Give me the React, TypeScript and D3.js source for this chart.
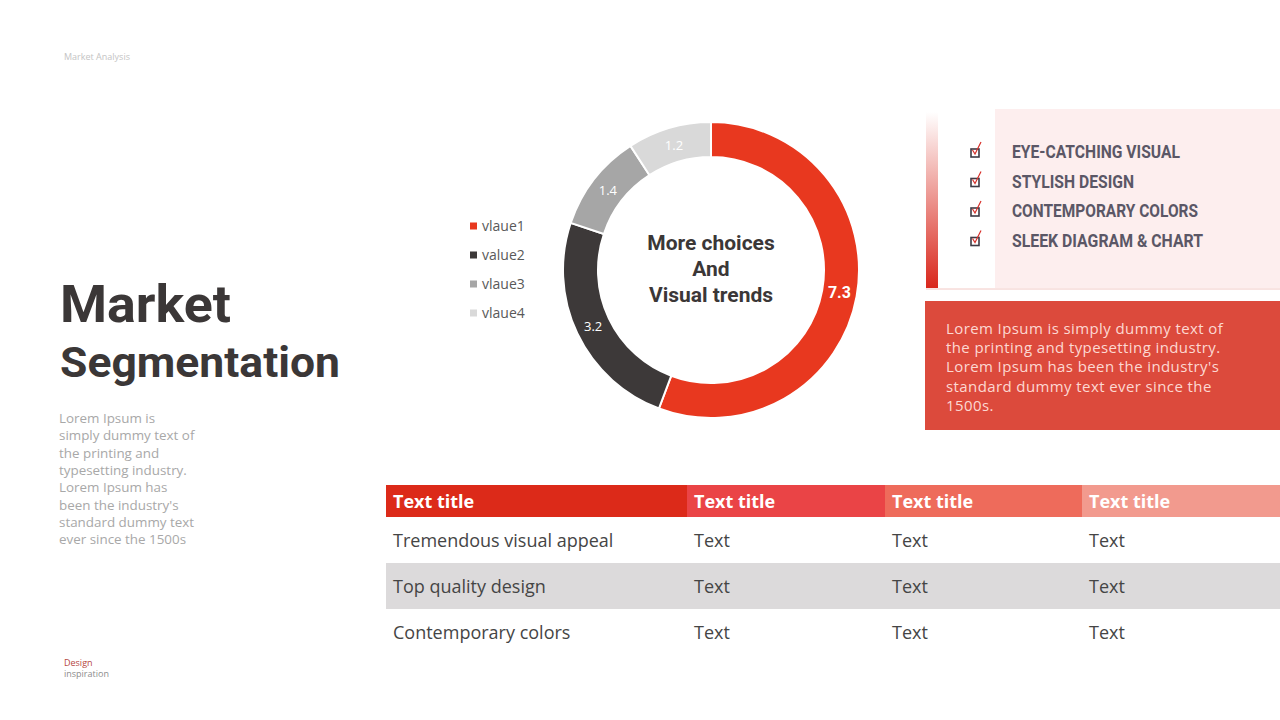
import * as d3 from 'd3';
import React from 'react';

interface Slice {
  label: string;
  value: number;
}

const sliceLabels = ['vlaue1', 'value2', 'vlaue3', 'vlaue4'];
const sliceValues = [7.3, 3.2, 1.4, 1.2];
const sliceColors = ['#e8381f', '#3d3939', '#a6a6a6', '#d9d9d9'];

const features = ['EYE-CATCHING VISUAL', 'STYLISH DESIGN', 'CONTEMPORARY COLORS', 'SLEEK DIAGRAM & CHART'];
const featureWidths = [168, 122, 186, 191];

const tableHeaders = ['Text title', 'Text title', 'Text title', 'Text title'];
const headerColors = ['#dc2a19', '#ea4446', '#ee6b5b', '#f29a8e'];
const tableRows = [
  ['Tremendous visual appeal', 'Text', 'Text', 'Text'],
  ['Top quality design', 'Text', 'Text', 'Text'],
  ['Contemporary colors', 'Text', 'Text', 'Text'],
];

const leftText = [
  'Lorem Ipsum is',
  'simply dummy text of',
  'the printing and',
  'typesetting industry.',
  'Lorem Ipsum has',
  "been the industry's",
  'standard dummy text',
  'ever since the 1500s',
];
const boxText = [
  'Lorem Ipsum is simply dummy text of',
  'the printing and typesetting industry.',
  "Lorem Ipsum has been the industry's",
  'standard dummy text ever since the',
  '1500s.',
];
const centerText = ['More choices', 'And', 'Visual trends'];

const W = 1280;
const H = 720;
const cx = 711;
const cy = 270;
const outerR = 148;
const innerR = 113;
const bodyFont = '"Open Sans", "Noto Sans", sans-serif';
const headFont = 'Roboto, "Noto Sans", sans-serif';

const App: React.FC = () => {
  const data: Slice[] = sliceLabels.map((label, i) => ({ label, value: sliceValues[i] }));
  const pie = d3.pie<Slice>().value((d) => d.value).sort(null);
  const arcs = pie(data);
  const arc = d3.arc<d3.PieArcDatum<Slice>>().innerRadius(innerR).outerRadius(outerR);

  // table geometry
  const colX = d3.scaleOrdinal<number, number>().domain([0, 1, 2, 3]).range([386, 687, 885, 1082]);
  const colEnd = [687, 885, 1082, 1280];
  const rowY = d3.scaleBand<number>().domain(d3.range(tableRows.length)).range([517, 655]);

  return (
    <svg
      width={W}
      height={H}
      viewBox={`0 0 ${W} ${H}`}
      style={{ position: 'absolute', left: 0, top: 0, background: '#fff' }}
    >
      <defs>
        <linearGradient id="bar" x1="0" y1="0" x2="0" y2="1">
          <stop offset="0" stopColor="#ffffff" />
          <stop offset="1" stopColor="#d9271c" />
        </linearGradient>
      </defs>

      <text x={64} y={60} fontFamily={bodyFont} fontSize={9} fill="#c4c4c4">
        Market Analysis
      </text>

      {/* title */}
      <text x={60} y={322} fontFamily={headFont} fontWeight={700} fontSize={52} fill="#3b3737" textLength={171} lengthAdjust="spacingAndGlyphs">
        Market
      </text>
      <text x={60} y={377} fontFamily={headFont} fontWeight={700} fontSize={42} fill="#3b3737" textLength={280} lengthAdjust="spacingAndGlyphs">
        Segmentation
      </text>
      {leftText.map((t, i) => (
        <text key={i} x={59} y={423 + i * 17.3} fontFamily={bodyFont} fontSize={13.4} fill="#a8a8a8">
          {t}
        </text>
      ))}

      {/* legend */}
      {sliceLabels.map((l, i) => (
        <g key={l} transform={`translate(470,${226 + i * 29})`}>
          <rect x={0} y={-3.5} width={7} height={7} fill={sliceColors[i]} />
          <text x={12} y={5} fontFamily={bodyFont} fontSize={14} fill="#595959">
            {l}
          </text>
        </g>
      ))}

      {/* donut */}
      <g transform={`translate(${cx},${cy})`}>
        {arcs.map((a, i) => (
          <path key={i} d={arc(a) || ''} fill={sliceColors[i]} stroke="#fff" strokeWidth={2} />
        ))}
        {arcs.map((a, i) => {
          const [x, y] = arc.centroid(a);
          return (
            <text
              key={'l' + i}
              x={x}
              y={y + 5}
              textAnchor="middle"
              fontFamily={i === 0 ? headFont : bodyFont}
              fontWeight={i === 0 ? 700 : 400}
              fontSize={i === 0 ? 16 : 13}
              fill="#fff"
            >
              {a.data.value.toFixed(1)}
            </text>
          );
        })}
        {centerText.map((t, i) => (
          <text key={t} x={0} y={-20 + i * 26} textAnchor="middle" fontFamily={headFont} fontWeight={700} fontSize={21} fill="#3b3737">
            {t}
          </text>
        ))}
      </g>

      {/* right feature panel */}
      <rect x={995} y={109} width={285} height={179} fill="#fdeeee" />
      <rect x={926} y={112} width={12} height={176} fill="url(#bar)" />
      <line x1={926} x2={1280} y1={289} y2={289} stroke="#f2c8c4" strokeWidth={1} />
      {features.map((f, i) => {
        const y = 152 + i * 29.5;
        return (
          <g key={f}>
            <rect x={971} y={y - 3} width={8} height={8} fill="none" stroke="#3f3b45" strokeWidth={1.6} />
            <path d={`M ${972.5} ${y - 2} L ${975} ${y + 2} L ${981} ${y - 10}`} fill="none" stroke="#d8302a" strokeWidth={1.2} />
            <text x={1012} y={y + 6} fontFamily={headFont} fontWeight={700} fontSize={18} fill="#5b5766" textLength={featureWidths[i]} lengthAdjust="spacingAndGlyphs">
              {f}
            </text>
          </g>
        );
      })}

      {/* red text box */}
      <rect x={925} y={301} width={355} height={129} fill="#dc4a3c" />
      {boxText.map((t, i) => (
        <text key={i} x={946} y={334 + i * 19.2} fontFamily={bodyFont} fontSize={15} letterSpacing={0.4} fill="#fcd8d2">
          {t}
        </text>
      ))}

      {/* table */}
      {tableHeaders.map((h, i) => (
        <g key={'h' + i}>
          <rect x={colX(i)} y={485} width={colEnd[i] - colX(i)} height={32} fill={headerColors[i]} />
          <text x={colX(i) + 7} y={508} fontFamily={bodyFont} fontWeight={700} fontSize={18} fill="#fff">
            {h}
          </text>
        </g>
      ))}
      {tableRows.map((r, ri) => (
        <g key={'r' + ri}>
          <rect x={386} y={rowY(ri)} width={894} height={rowY.bandwidth()} fill={ri % 2 === 1 ? '#dcdadb' : '#ffffff'} />
          {r.map((c, ci) => (
            <text key={ci} x={colX(ci) + 7} y={(rowY(ri) || 0) + rowY.bandwidth() / 2 + 7} fontFamily={bodyFont} fontSize={18} fill="#454545">
              {c}
            </text>
          ))}
        </g>
      ))}

      <text x={64} y={666} fontFamily={bodyFont} fontSize={9} fill="#b5473f">
        Design
      </text>
      <text x={64} y={677} fontFamily={bodyFont} fontSize={9} fill="#8c8c8c">
        inspiration
      </text>
    </svg>
  );
};

export default App;
